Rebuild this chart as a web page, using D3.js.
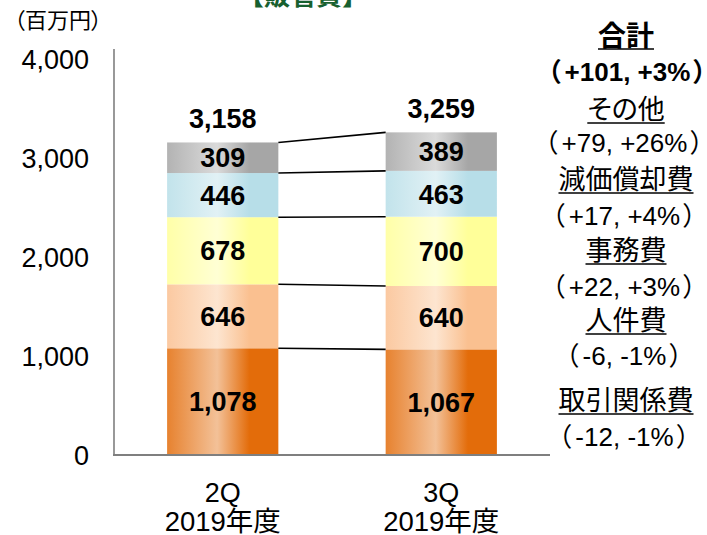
<!DOCTYPE html>
<html>
<head>
<meta charset="utf-8">
<script src="https://cdn.jsdelivr.net/npm/d3@7"></script>
<style>
  html, body { margin: 0; padding: 0; background: #fff; }
  svg { display: block; }
  text { font-family: "Liberation Sans", Arial, "Noto Sans CJK JP", sans-serif; }
  .palt { font-feature-settings: "palt"; }
</style>
</head>
<body>
<svg id="chart" width="707" height="535"></svg>
<script>
// ---- data ----
const quarters = ["2Q", "3Q"];
const yearLabels = ["2019年度", "2019年度"];
const seriesNames = ["取引関係費", "人件費", "事務費", "減価償却費", "その他"];
const values2Q = [1078, 646, 678, 446, 309];
const values3Q = [1067, 640, 700, 463, 389];
const totals = [3158, 3259];
const seriesChanges = ["-12, -1%", "-6, -1%", "+22, +3%", "+17, +4%", "+79, +26%"];
const totalName = "合計";
const totalChange = "+101, +3%";
const yTicks = [0, 1000, 2000, 3000, 4000];
const unitLabel = "（百万円）";
const titleText = "【販管費】";
const seriesColors = ["#E36C0A", "#FAC090", "#FFFF99", "#B7DEE8", "#A6A6A6"];

// ---- layout ----
const svg = d3.select("#chart");
const fmt = d3.format(",");
const x = d3.scaleBand().domain(quarters).range([114, 550]).paddingInner(0.491).paddingOuter(0.243);
const y = d3.scaleLinear().domain([0, 4000]).range([455, 59]);
const bw = x.bandwidth();

const valuesByQ = [values2Q, values3Q];
const stacks = valuesByQ.map(vals => {
  let acc = 0;
  return vals.map((v, i) => { const s = { i, v, y0: acc, y1: acc + v }; acc += v; return s; });
});

// gradients
const defs = svg.append("defs");
seriesColors.forEach((c, i) => {
  const g = defs.append("linearGradient").attr("id", "g" + i)
    .attr("x1", "0%").attr("x2", "100%").attr("y1", "0%").attr("y2", "0%");
  const mix = t => d3.interpolateRgb(c, "#ffffff")(t);
  g.append("stop").attr("offset", "0%").attr("stop-color", mix(0.15));
  g.append("stop").attr("offset", "45%").attr("stop-color", mix(0.58));
  g.append("stop").attr("offset", "74%").attr("stop-color", c);
  g.append("stop").attr("offset", "100%").attr("stop-color", c);
});

// title (cut at top)
svg.append("text").attr("x", 303).attr("y", 5).attr("text-anchor", "middle")
  .attr("font-size", 26).attr("font-weight", "bold").attr("fill", "#17602F")
  .attr("font-family", "Noto Sans CJK JP").text(titleText);

// unit label
svg.append("text").attr("class", "palt").attr("x", 14).attr("y", 28)
  .attr("font-size", 22).attr("fill", "#000").text(unitLabel);

// y tick labels
svg.append("g").selectAll("text").data(yTicks).join("text")
  .attr("x", 89).attr("y", d => y(d)).attr("dy", "0.36em")
  .attr("text-anchor", "end").attr("font-size", 27).attr("fill", "#000")
  .text(d => fmt(d));

// bars
quarters.forEach((q, qi) => {
  const g = svg.append("g");
  g.selectAll("rect").data(stacks[qi]).join("rect")
    .attr("x", x(q)).attr("width", bw)
    .attr("y", d => y(d.y1)).attr("height", d => y(d.y0) - y(d.y1))
    .attr("fill", d => "url(#g" + d.i + ")");
  g.selectAll("text").data(stacks[qi]).join("text")
    .attr("x", x(q) + bw / 2).attr("y", d => y((d.y0 + d.y1) / 2)).attr("dy", "0.36em")
    .attr("text-anchor", "middle").attr("font-size", 27).attr("font-weight", "bold")
    .attr("fill", "#000").text(d => fmt(d.v));
  // total
  svg.append("text").attr("x", x(q) + bw / 2).attr("y", y(totals[qi]) - 14)
    .attr("text-anchor", "middle").attr("font-size", 27).attr("font-weight", "bold")
    .attr("fill", "#000").text(fmt(totals[qi]));
  // x labels
  svg.append("text").attr("x", x(q) + bw / 2).attr("y", 502)
    .attr("text-anchor", "middle").attr("font-size", 27).attr("fill", "#000").text(q);
  svg.append("text").attr("x", x(q) + bw / 2).attr("y", 531)
    .attr("text-anchor", "middle").attr("font-size", 27.5).attr("fill", "#000").text(yearLabels[qi]);
});

// connector lines
const x1 = x(quarters[0]) + bw, x2 = x(quarters[1]);
svg.append("g").selectAll("line").data(d3.range(seriesNames.length)).join("line")
  .attr("x1", x1).attr("x2", x2)
  .attr("y1", i => y(stacks[0][i].y1)).attr("y2", i => y(stacks[1][i].y1))
  .attr("stroke", "#000").attr("stroke-width", 1.6);

// axes lines
svg.append("line").attr("x1", 114).attr("x2", 114).attr("y1", y(4000) - 10).attr("y2", y(0))
  .attr("stroke", "#7f7f7f").attr("stroke-width", 1.6);
svg.append("line").attr("x1", 113).attr("x2", 550).attr("y1", y(0)).attr("y2", y(0))
  .attr("stroke", "#7f7f7f").attr("stroke-width", 2);

// legend (right side)
const lx = 626;
const nameY = [400, 320, 250, 179, 109];
const changeY = [437, 356, 287, 216, 143];
function underlined(txt, cx, cy, bold, size) {
  const t = svg.append("text").attr("class", "palt").attr("x", cx).attr("y", cy).attr("dy", "0.38em")
    .attr("text-anchor", "middle").attr("font-size", size).attr("fill", "#000")
    .attr("font-weight", bold ? "bold" : "normal").text(txt);
  const w = t.node().getComputedTextLength();
  svg.append("line").attr("x1", cx - w / 2).attr("x2", cx + w / 2)
    .attr("y1", cy + 14).attr("y2", cy + 14).attr("stroke", "#000").attr("stroke-width", 1.6);
}
function paren(txt, cx, cy, bold, size) {
  const t = svg.append("text").attr("class", "palt").attr("x", cx).attr("y", cy).attr("dy", "0.36em")
    .attr("text-anchor", "middle").attr("font-size", size).attr("fill", "#000")
    .attr("font-weight", bold ? "bold" : "normal");
  t.append("tspan").text("（");
  t.append("tspan").attr("dx", 4).text(txt);
  t.append("tspan").attr("dx", 3).text("）");
}
underlined(totalName, lx, 35, true, 28);
paren(totalChange, lx + 1, 72, true, 26);
seriesNames.forEach((n, i) => {
  underlined(n, lx, nameY[i], false, 27);
  paren(seriesChanges[i], lx - 2, changeY[i], false, 26);
});
</script>
</body>
</html>
